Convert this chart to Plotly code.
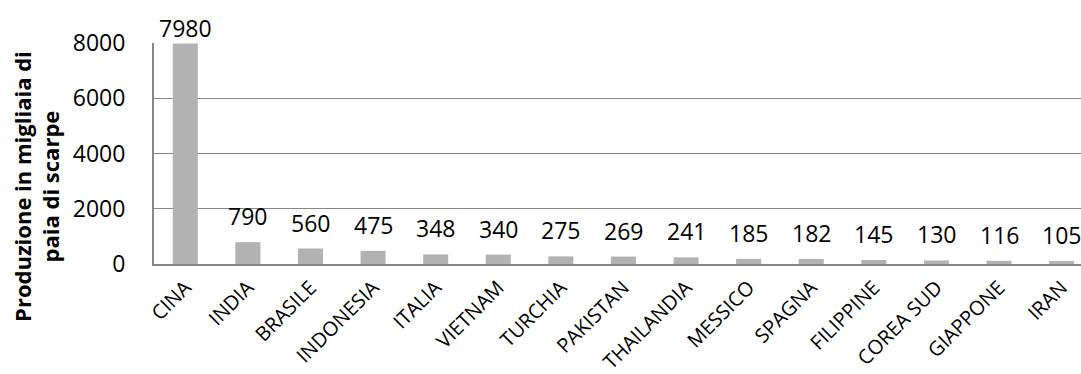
import plotly.graph_objects as go

# Footwear production by country (thousands of pairs)
paesi = ["CINA", "INDIA", "BRASILE", "INDONESIA", "ITALIA", "VIETNAM", "TURCHIA",
         "PAKISTAN", "THAILANDIA", "MESSICO", "SPAGNA", "FILIPPINE", "COREA SUD",
         "GIAPPONE", "IRAN"]
produzione = [7980, 790, 560, 475, 348, 340, 275, 269, 241, 185, 182, 145, 130, 116, 105]
y_ticks = [0, 2000, 4000, 6000, 8000]

FONT = "Open Sans"
AXIS_GREY = "#878787"
Y_MAX = 8000

fig = go.Figure(
    go.Bar(
        x=paesi,
        y=produzione,
        marker=dict(color="#b2b2b2", line=dict(width=0)),
        hoverinfo="x+y",
    )
)

# Value labels above each bar; a label that would run past the top of the
# chart is tucked in closer to its bar.
for paese, valore in zip(paesi, produzione):
    shift = -2 if valore > 0.9 * Y_MAX else 8
    fig.add_annotation(
        x=paese,
        y=valore,
        text=str(valore),
        showarrow=False,
        xanchor="center",
        yanchor="bottom",
        yshift=shift,
        font=dict(family=FONT, size=23, color="#000000"),
    )

# Vertical axis title, set a little below the middle of the plot
fig.add_annotation(
    text="Produzione in migliaia di<br>paia di scarpe",
    xref="paper",
    yref="paper",
    x=-0.127,
    y=0.35,
    xanchor="center",
    yanchor="middle",
    textangle=-90,
    showarrow=False,
    font=dict(family=FONT, size=22, color="#000000", weight="bold"),
)

fig.update_layout(
    width=1081,
    height=374,
    margin=dict(l=154, r=0, t=43, b=110),
    paper_bgcolor="white",
    plot_bgcolor="white",
    bargap=0.6,
    showlegend=False,
    font=dict(family=FONT, color="#000000"),
)

fig.update_xaxes(
    type="category",
    range=[-0.5, 14.31],
    tickangle=-45,
    tickfont=dict(family=FONT, size=20, color="#000000"),
    showline=True,
    linecolor=AXIS_GREY,
    linewidth=2,
    ticks="",
    ticklabelstandoff=2,
    showgrid=False,
    automargin=False,
)

fig.update_yaxes(
    range=[0, Y_MAX],
    tickvals=y_ticks,
    ticktext=[str(v) for v in y_ticks],
    tickfont=dict(family=FONT, size=23, color="#000000"),
    showline=True,
    linecolor=AXIS_GREY,
    linewidth=2,
    showgrid=True,
    gridcolor=AXIS_GREY,
    gridwidth=1,
    zeroline=False,
    ticks="",
    ticklabelstandoff=22,
    automargin=False,
)

fig.write_html("out.html")
